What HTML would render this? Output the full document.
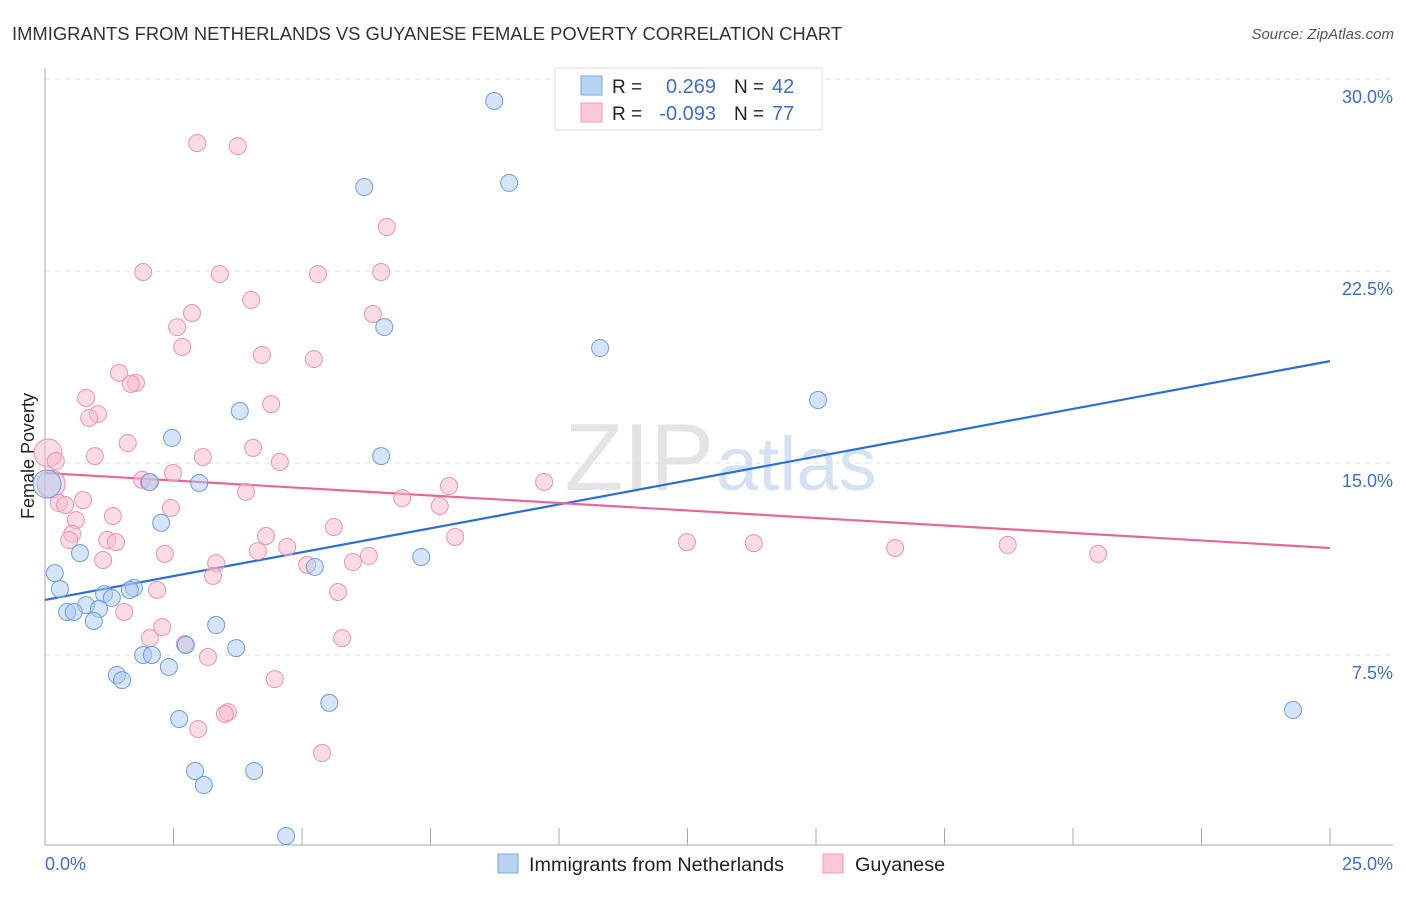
<!DOCTYPE html>
<html><head><meta charset="utf-8"><style>
body{margin:0;background:#fff;font-family:"Liberation Sans",sans-serif;}
svg text{font-family:"Liberation Sans",sans-serif;}
</style></head><body>
<svg id="chart" width="1406" height="892" xmlns="http://www.w3.org/2000/svg">
<text x="12" y="40" font-size="18.4" fill="#333">IMMIGRANTS FROM NETHERLANDS VS GUYANESE FEMALE POVERTY CORRELATION CHART</text>
<text x="1394" y="39" font-size="15" fill="#555" font-style="italic" text-anchor="end">Source: ZipAtlas.com</text>
<text x="714" y="490" font-size="96" fill="#e4e4e4" text-anchor="end" font-family="Liberation Serif">ZIP</text>
<text x="716" y="490" font-size="76" fill="#d4e2f4">atlas</text>
<text transform="translate(34,456) rotate(-90)" font-size="18" fill="#222" text-anchor="middle">Female Poverty</text>
<g id="grid"></g><g id="axes"></g><g id="lines"></g><g id="pts"></g>
<g>
<rect x="555" y="68" width="267" height="62" fill="#fff" stroke="#ddd"/>
<rect x="581" y="76" width="21" height="19" fill="#b9d3f3" stroke="#7aa7e0"/>
<rect x="581" y="103" width="21" height="19" fill="#f9c9d7" stroke="#ef9ab4"/>
<text x="612" y="93" font-size="19" fill="#222">R = </text><text x="716" y="93" font-size="20" fill="#3a6fd0" text-anchor="end">0.269</text>
<text x="734" y="93" font-size="19" fill="#222">N = </text><text x="772" y="93" font-size="20" fill="#3a6fd0">42</text>
<text x="612" y="120" font-size="19" fill="#222">R = </text><text x="716" y="120" font-size="20" fill="#3a6fd0" text-anchor="end">-0.093</text>
<text x="734" y="120" font-size="19" fill="#222">N = </text><text x="772" y="120" font-size="20" fill="#3a6fd0">77</text>
</g>
<g>
<rect x="498" y="854" width="20" height="19" fill="#b9d3f3" stroke="#7aa7e0"/>
<text x="529" y="871" font-size="19.8" fill="#222">Immigrants from Netherlands</text>
<rect x="823" y="854" width="20" height="19" fill="#f9c9d7" stroke="#ef9ab4"/>
<text x="855" y="871" font-size="19.8" fill="#222">Guyanese</text>
</g>
</svg>
<script>
const yTicks=[7.5,15,22.5,30];
const yTickLabels=["7.5%","15.0%","22.5%","30.0%"];
const xTickLabels=["0.0%","25.0%"];
const blueX=[8.74,6.21,9.03,6.60,10.80,3.79,2.47,15.04,6.54,3.00,2.04,2.26,0.68,0.19,7.32,5.25,0.29,1.73,1.65,1.15,1.30,0.80,1.05,0.43,0.56,0.95,3.33,2.74,3.72,1.91,2.08,2.41,1.40,1.50,5.53,2.61,2.92,4.07,3.09,4.69,24.28,0.04];
const blueY=[29.14,25.78,25.94,20.31,19.49,17.03,15.98,17.46,15.27,14.22,14.26,12.66,11.48,10.70,11.33,10.94,10.08,10.12,10.04,9.88,9.73,9.45,9.30,9.18,9.18,8.83,8.67,7.89,7.77,7.50,7.50,7.03,6.72,6.52,5.63,5.00,2.97,2.97,2.42,0.43,5.35,14.18];
const pinkX=[2.96,3.75,6.65,1.91,3.40,5.31,6.54,4.01,2.86,6.38,2.57,2.67,4.22,5.23,1.44,1.77,1.67,0.80,4.40,1.03,0.86,1.61,4.05,0.06,0.97,0.21,3.07,4.57,2.49,1.89,2.02,0.12,3.91,6.95,7.86,9.71,0.74,0.27,0.39,2.45,7.68,1.32,0.60,5.62,4.30,0.53,0.47,7.98,1.21,1.38,12.49,13.79,16.54,18.73,20.49,2.33,4.14,4.71,6.30,5.99,1.13,3.33,5.10,3.27,2.18,5.70,1.54,2.28,2.04,2.72,3.17,5.78,4.47,3.56,3.50,2.98,5.39];
const pinkY=[27.50,27.38,24.22,22.46,22.38,22.38,22.46,21.37,20.86,20.82,20.31,19.53,19.22,19.06,18.52,18.13,18.09,17.54,17.30,16.91,16.76,15.78,15.59,15.39,15.27,15.08,15.23,15.04,14.61,14.34,14.26,14.18,13.87,13.63,14.10,14.26,13.55,13.44,13.36,13.24,13.32,12.93,12.77,12.50,12.15,12.23,11.99,12.11,11.99,11.91,11.91,11.87,11.68,11.80,11.45,11.45,11.56,11.72,11.37,11.13,11.21,11.09,11.02,10.59,10.04,9.96,9.18,8.59,8.16,7.93,7.42,8.16,6.56,5.27,5.20,4.61,3.67];
const blueTrend=[9.65,18.98];
const pinkTrend=[14.61,11.68];
const NS="http://www.w3.org/2000/svg";
const X=v=>45+v/25*1285;
const Y=v=>847-v/7.5*192;
function mk(tag,attrs,parent){const e=document.createElementNS(NS,tag);for(const k in attrs)e.setAttribute(k,attrs[k]);document.getElementById(parent).appendChild(e);return e;}
yTicks.forEach((t,i)=>{
 const g=mk('line',{x1:45,x2:1393,y1:Y(t),y2:Y(t),stroke:'#dde',"stroke-dasharray":'5,5'},'grid');
 
 
 const l=mk('text',{x:1393,y:Y(t)+24,"font-size":18,fill:'#3a6fd0',"text-anchor":'end'},'grid');
 l.textContent=yTickLabels[i];
 
 
});
const ax=mk('line',{x1:45,x2:45,y1:68,y2:845,stroke:'#aaa'},'axes');


const bx=mk('line',{x1:45,x2:1393,y1:845,y2:845,stroke:'#aaa'},'axes');


for(let i=0;i<=10;i++){const t=mk('line',{x1:X(i*2.5),x2:X(i*2.5),y1:828,y2:845,stroke:'#aaa'},'axes');
 
 }
const xl0=mk('text',{x:45,y:870,"font-size":18,fill:'#3a6fd0'},'axes');xl0.textContent=xTickLabels[0];


const xl1=mk('text',{x:1393,y:870,"font-size":18,fill:'#3a6fd0',"text-anchor":'end'},'axes');xl1.textContent=xTickLabels[1];


function pts(xs,ys,fill,stroke,name){xs.forEach((x,i)=>{
 const big=(x<0.15);
 const c=mk('circle',{cx:X(x),cy:Y(ys[i]),r:big?14:8.5,fill:fill,"fill-opacity":0.5,stroke:stroke,"stroke-width":1},'pts');
 
 });}
pts(pinkX,pinkY,'#f7b9cc','#ec93af','guyanese-point');
pts(blueX,blueY,'#abc9f0','#6c9edc','netherlands-point');
const bl=mk('line',{x1:X(0),y1:Y(blueTrend[0]),x2:X(25),y2:Y(blueTrend[1]),stroke:'#2a6fd6',"stroke-width":2.2},'lines');


const pl=mk('line',{x1:X(0),y1:Y(pinkTrend[0]),x2:X(25),y2:Y(pinkTrend[1]),stroke:'#e8679a',"stroke-width":2.2},'lines');


</script>
</body></html>
